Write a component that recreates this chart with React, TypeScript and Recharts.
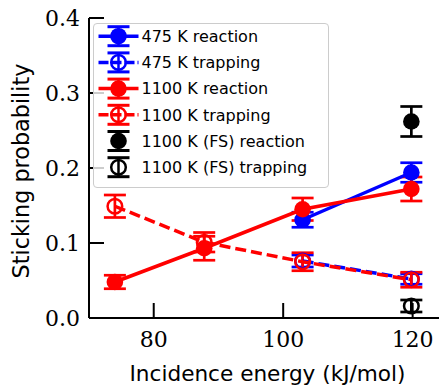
import React from 'react'
import { ComposedChart, Scatter, XAxis, YAxis, ErrorBar, Legend, Label } from 'recharts'

// incidence energies (kJ/mol)
const energies475 = [103, 119.8]
const energies1100 = [74, 87.8, 103, 119.8]
const energiesFS = [119.8]

// sticking probabilities and their error bars
const reaction475 = [0.131, 0.194]
const reaction475Err = [0.01, 0.013]
const trapping475 = [0.076, 0.052]
const trapping475Err = [0.008, 0.007]

const reaction1100 = [0.048, 0.093, 0.145, 0.172]
const reaction1100Err = [0.009, 0.016, 0.015, 0.016]
const trapping1100 = [0.149, 0.101, 0.075, 0.051]
const trapping1100Err = [0.015, 0.013, 0.012, 0.010]

const reactionFS = [0.262]
const reactionFSErr = [0.02]
const trappingFS = [0.016]
const trappingFSErr = [0.008]

const xTicks = [80, 100, 120]
const yTicks = [0, 0.1, 0.2, 0.3, 0.4]

const SANS = '"DejaVu Sans", sans-serif'
const SERIF = '"DejaVu Serif", serif'
const BLUE = '#0000ff'
const RED = '#ff0000'
const BLACK = '#000000'

const toPoints = (xs: number[], ys: number[], es: number[]) =>
  xs.map((x, i) => ({ x, y: ys[i], err: es[i] }))

type Style = 'solid' | 'dashed' | 'none'

const series = [
  { name: '475 K reaction', data: toPoints(energies475, reaction475, reaction475Err), color: BLUE, filled: true, line: 'solid' as Style },
  { name: '475 K trapping', data: toPoints(energies475, trapping475, trapping475Err), color: BLUE, filled: false, line: 'dashed' as Style },
  { name: '1100 K reaction', data: toPoints(energies1100, reaction1100, reaction1100Err), color: RED, filled: true, line: 'solid' as Style },
  { name: '1100 K trapping', data: toPoints(energies1100, trapping1100, trapping1100Err), color: RED, filled: false, line: 'dashed' as Style },
  { name: '1100 K (FS) reaction', data: toPoints(energiesFS, reactionFS, reactionFSErr), color: BLACK, filled: true, line: 'none' as Style },
  { name: '1100 K (FS) trapping', data: toPoints(energiesFS, trappingFS, trappingFSErr), color: BLACK, filled: false, line: 'none' as Style },
]

const DASH = '11 5'

const Marker = ({ cx, cy, color, filled }: { cx: number; cy: number; color: string; filled: boolean }) =>
  filled
    ? <circle cx={cx} cy={cy} r={8.3} fill={color} />
    : <circle cx={cx} cy={cy} r={7.3} fill="none" stroke={color} strokeWidth={2.5} />

const LegendBox = () => {
  const rowH = 26.2
  return (
    <div style={{
      width: 236, height: 165, boxSizing: 'border-box', border: '1.5px solid #cccccc',
      borderRadius: 4, background: 'rgba(255,255,255,0.8)',
    }}>
      <svg width={233} height={162} style={{ display: 'block' }}>
        {series.map((s, i) => {
          const cy = 12.2 + i * rowH
          const cx = 24.5
          return (
            <g key={s.name}>
              {s.line !== 'none' && (
                <line x1={4.5} x2={44.5} y1={cy} y2={cy} stroke={s.color} strokeWidth={3.5}
                  strokeDasharray={s.line === 'dashed' ? '10 3' : undefined} />
              )}
              <line x1={cx} x2={cx} y1={cy - 9.5} y2={cy + 9.5} stroke={s.color} strokeWidth={2.5} />
              <line x1={cx - 11} x2={cx + 11} y1={cy - 9.5} y2={cy - 9.5} stroke={s.color} strokeWidth={3} />
              <line x1={cx - 11} x2={cx + 11} y1={cy + 9.5} y2={cy + 9.5} stroke={s.color} strokeWidth={3} />
              <Marker cx={cx} cy={cy} color={s.color} filled={s.filled} />
              <text x={47.5} y={cy + 5.8} fontFamily={SANS} fontSize={16} fill="#000">{s.name}</text>
            </g>
          )
        })}
      </svg>
    </div>
  )
}

const axisLine = { stroke: '#000', strokeWidth: 2 }
const tickLine = { stroke: '#000', strokeWidth: 2 }

const XTick = ({ x, y, payload }: any) => (
  <text x={x} y={y + 15.5} textAnchor="middle" fontFamily={SERIF} fontSize={22} fill="#000">
    {payload.value}
  </text>
)

const YTick = ({ x, y, payload }: any) => (
  <text x={x} y={y + 8} textAnchor="end" fontFamily={SERIF} fontSize={22} fill="#000">
    {Number(payload.value).toFixed(1)}
  </text>
)

export default function App() {
  return (
    <div style={{ position: 'absolute', left: 0, top: 0, width: 439, height: 388, overflow: 'hidden', background: '#fff' }}>
      <ComposedChart width={460} height={388} margin={{ top: 18, right: 15, bottom: 0, left: 0 }}>
        <XAxis type="number" dataKey="x" domain={[70, 125]} ticks={xTicks} interval={0}
          allowDataOverflow height={70} tickSize={-15} tickMargin={28}
          axisLine={axisLine} tickLine={tickLine} tick={<XTick />}>
          <Label content={() => (
            <text x={267.5} y={381} textAnchor="middle" fontFamily={SANS} fontSize={21.6} fill="#000">
              Incidence energy (kJ/mol)
            </text>
          )} />
        </XAxis>
        <XAxis xAxisId="top" orientation="top" type="number" dataKey="x" domain={[70, 125]} ticks={xTicks}
          interval={0} allowDataOverflow height={0} mirror tick={false} tickSize={15}
          axisLine={axisLine} tickLine={tickLine} />
        <YAxis type="number" dataKey="y" domain={[0, 0.4]} ticks={yTicks} interval={0}
          allowDataOverflow width={89} tickSize={-15} tickMargin={24}
          axisLine={axisLine} tickLine={tickLine} tick={<YTick />}>
          <Label content={() => (
            <text transform="rotate(-90)" x={-171} y={28.5} textAnchor="middle" fontFamily={SANS} fontSize={22.3} fill="#000">
              Sticking probability
            </text>
          )} />
        </YAxis>
        <YAxis yAxisId="right" orientation="right" type="number" dataKey="y" domain={[0, 0.4]} ticks={yTicks}
          interval={0} allowDataOverflow width={0} mirror tick={false} tickSize={15}
          axisLine={axisLine} tickLine={tickLine} />
        {series.map(s => (
          <Scatter key={s.name} name={s.name} data={s.data} fill={s.color}
            isAnimationActive={false} lineType="joint"
            line={s.line === 'none' ? false : {
              stroke: s.color, strokeWidth: 3.5,
              strokeDasharray: s.line === 'dashed' ? DASH : undefined,
            }}
            shape={(p: any) => <Marker cx={p.cx} cy={p.cy} color={s.color} filled={s.filled} />}>
            <ErrorBar dataKey="err" direction="y" width={11} strokeWidth={2.7} stroke={s.color}
              isAnimationActive={false} />
          </Scatter>
        ))}
        <Legend layout="vertical" align="center" verticalAlign="middle" width={236} height={165}
          wrapperStyle={{ left: 93, top: 23, width: 236, height: 165 }}
          content={() => <LegendBox />} />
      </ComposedChart>
    </div>
  )
}
